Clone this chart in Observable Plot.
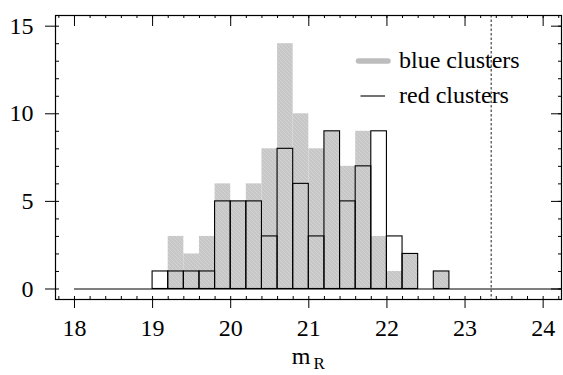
<!DOCTYPE html>
<html>
<head>
<meta charset="utf-8">
<script src="https://cdn.jsdelivr.net/npm/d3@7"></script>
<script src="https://cdn.jsdelivr.net/npm/@observablehq/plot@0.6"></script>
<style>
  body { margin: 0; background: white; font-family: "Liberation Serif"; }
  #wrap { position: relative; width: 563px; height: 375px; font-family: "Liberation Serif"; }
  #legend { position: absolute; left: 0; top: 0; pointer-events: none; }
</style>
</head>
<body>
<div id="wrap">
<svg id="legend" width="563" height="375" font-family="Liberation Serif" font-size="24">
  <line x1="358.5" x2="388" y1="61" y2="61" stroke="#bdbdbd" stroke-width="5.5" stroke-linecap="round"></line>
  <text id="leg0" x="399" y="67.8" font-family="Liberation Serif" font-size="24" fill="black">blue clusters</text>
  <line x1="360.5" x2="385" y1="96" y2="96" stroke="black" stroke-width="1.1"></line>
  <text id="leg1" x="399" y="102.8" font-family="Liberation Serif" font-size="24" fill="black">red clusters</text>
</svg>
</div>
<script>
// ---- data (histogram of m_R, bin width 0.2) ----
const binStarts = [19.0, 19.2, 19.4, 19.6, 19.8, 20.0, 20.2, 20.4, 20.6, 20.8,
                   21.0, 21.2, 21.4, 21.6, 21.8, 22.0, 22.2, 22.4, 22.6];
const blueCounts = [0, 3, 2, 3, 6, 5, 6, 8, 14, 10, 8, 9, 7, 9, 3, 1, 2, 0, 1];
const redCounts  = [1, 1, 1, 1, 5, 5, 5, 3, 8, 6, 3, 9, 5, 7, 9, 3, 2, 0, 1];
const binWidth = 0.2;
const limitMag = [23.335];
const baselineStart = 18;
const xMajor = [18, 19, 20, 21, 22, 23, 24];
const xMinor = [17.8,18.0,18.2,18.4,18.6,18.8,19.0,19.2,19.4,19.6,19.8,20.0,20.2,20.4,20.6,20.8,21.0,21.2,21.4,21.6,21.8,22.0,22.2,22.4,22.6,22.8,23.0,23.2,23.4,23.6,23.8,24.0,24.2];
const yMajor = [0, 5, 10, 15];
const yMinor = [0,1,2,3,4,5,6,7,8,9,10,11,12,13,14,15];
const seriesNames = ["blue clusters", "red clusters"];
const xLabel = ["m"];
const xLabelSub = ["R"];

const bins = binStarts.map((x, i) => ({x1: x, x2: x + binWidth, blue: blueCounts[i], red: redCounts[i]}));

const FONT = "Liberation Serif";
const W = 563, H = 375, mL = 55, mR = 2, mT = 15, mB = 76;
const pw = W - mL - mR, ph = H - mT - mB;
const xDomain = [17.757, 24.235];

const svg = Plot.plot({
  width: W, height: H,
  marginLeft: mL, marginRight: mR, marginTop: mT, marginBottom: mB,
  x: {domain: xDomain, axis: null},
  y: {domain: [-0.6, 15.61], axis: null},
  style: {fontFamily: FONT, fontSize: "24px", background: "white", color: "black"},
  marks: [
    Plot.rect(bins.filter(d => d.blue > 0), {x1: "x1", x2: "x2", y1: 0, y2: "blue", fill: "url(#hatch)"}),
    Plot.ruleY([0], {x1: baselineStart, x2: xDomain[1], stroke: "black", strokeWidth: 1.1}),
    Plot.rect(bins.filter(d => d.red > 0), {x1: "x1", x2: "x2", y1: 0, y2: "red", fill: "none", stroke: "black", strokeWidth: 1.1}),
    Plot.ruleX(limitMag, {stroke: "#444", strokeWidth: 1.2, strokeDasharray: "2.5,2"}),
    // minor / inner ticks
    Plot.ruleX(xMinor, {insetTop: ph - 3, stroke: "black"}),
    Plot.ruleX(xMinor, {insetBottom: ph - 3, stroke: "black"}),
    Plot.ruleX(xMajor, {insetBottom: ph - 11, stroke: "black"}),
    Plot.ruleY(yMinor, {insetRight: pw - 4, stroke: "black"}),
    Plot.ruleY(yMinor, {insetLeft: pw - 3, stroke: "black"}),
    Plot.ruleY(yMajor, {insetLeft: pw - 10, stroke: "black"}),
    // main axes
    Plot.axisX(xMajor, {anchor: "bottom", tickSize: 9, tickPadding: 10, label: null, tickFormat: d => String(d), fontSize: 24, fontFamily: FONT}),
    Plot.axisY(yMajor, {anchor: "left", tickSize: 10, tickPadding: 12, label: null, tickFormat: d => String(d), fontSize: 24, fontFamily: FONT}),
    Plot.text(xLabel, {frameAnchor: "bottom", textAnchor: "end", dx: 2, dy: 64, lineAnchor: "bottom", fontSize: 24, fontFamily: FONT}),
    Plot.text(xLabelSub, {frameAnchor: "bottom", textAnchor: "start", dx: 5, dy: 69, lineAnchor: "bottom", fontSize: 17, fontFamily: FONT}),
    Plot.frame({stroke: "black", strokeWidth: 1.2})
  ]
});

// hatch pattern for the blue-cluster bars
const defs = d3.select(svg).insert("defs", ":first-child");
const pat = defs.append("pattern").attr("id", "hatch").attr("patternUnits", "userSpaceOnUse")
  .attr("width", 4).attr("height", 4);
pat.append("rect").attr("width", 4).attr("height", 4).attr("fill", "#c7c7c7");
pat.append("path").attr("d", "M-1,3 l2,2 M0,0 l4,4 M3,-1 l2,2").attr("stroke", "#d3d3d3").attr("stroke-width", 1);

const wrap = document.getElementById("wrap");
const legendSvg = document.getElementById("legend");
wrap.insertBefore(svg, legendSvg);
document.getElementById("leg0").textContent = seriesNames[0];
document.getElementById("leg1").textContent = seriesNames[1];
</script>
</body>
</html>
